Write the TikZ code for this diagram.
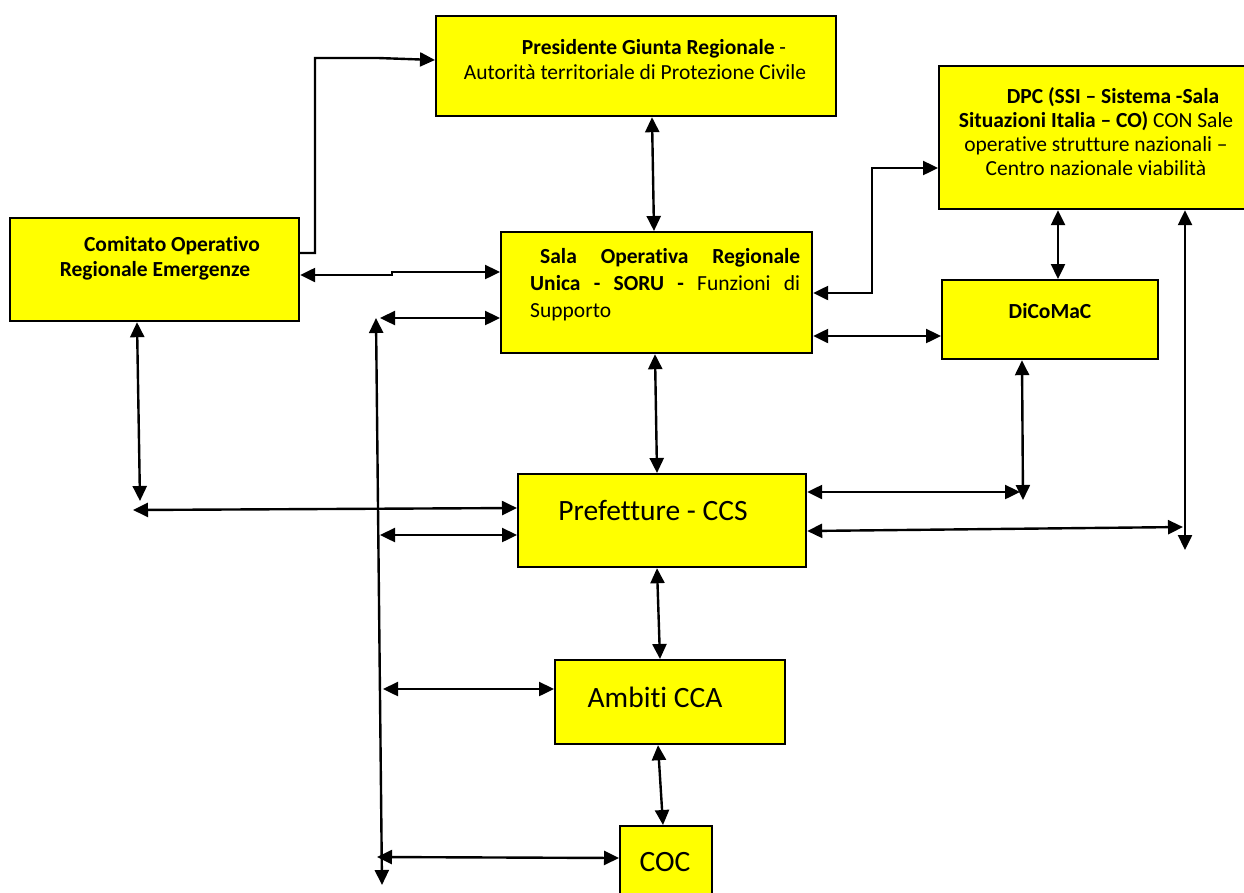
\documentclass[tikz,border=0pt]{standalone}
\usepackage{fontspec}
\setmainfont{Carlito}[Ligatures=NoCommon]
\usetikzlibrary{arrows.meta}
\definecolor{ylw}{RGB}{255,255,0}
\tikzset{
  box/.style={draw, line width=2.2pt, fill=ylw, inner sep=0pt, anchor=north west},
  txt/.style={inner sep=0pt, font=\fontsize{21.5}{25}\selectfont},
  bigtxt/.style={inner sep=0pt, font=\fontsize{29.5}{32}\selectfont},
  tip/.tip={Triangle[length=15pt,width=14pt]},
  both/.style={line width=2.4pt, tip-tip},
  one/.style={line width=2.4pt, -tip},
}
\begin{document}
\begin{tikzpicture}[x=1pt,y=-1pt]
\useasboundingbox (0,0) rectangle (1244,892);
% boxes
\node[box, minimum width=400pt, minimum height=100pt] (pres) at (435,15) {};
\node[box, minimum width=308pt, minimum height=143pt] (dpc) at (938,65) {};
\node[box, minimum width=289pt, minimum height=103pt] (com) at (9,217) {};
\node[box, minimum width=311pt, minimum height=121pt] (soru) at (500,231) {};
\node[box, minimum width=216pt, minimum height=79pt] (dico) at (941,279) {};
\node[box, minimum width=288pt, minimum height=93pt] (pref) at (517,473) {};
\node[box, minimum width=230pt, minimum height=84pt] (amb) at (554,659) {};
\node[box, minimum width=92pt, minimum height=72pt] (coc) at (619,825) {};
% texts
\node[txt, align=center] (prest) at (635,60) {\hspace*{38pt}\textbf{Presidente Giunta Regionale} -\\Autorità territoriale di Protezione Civile};
\node[txt, align=center, font=\fontsize{21.5}{24}\selectfont] (dpct) at (1096,132) {\hspace*{34pt}\textbf{DPC (SSI – Sistema -Sala}\\\textbf{Situazioni Italia – CO)} CON Sale\\operative strutture nazionali –\\Centro nazionale viabilità};
\node[txt, align=center, font=\fontsize{21.5}{25}\selectfont\bfseries] (comt) at (155,258) {\hspace*{34pt}Comitato Operativo\\Regionale Emergenze};
\node[txt, anchor=north west, text width=270pt, align=left, font=\fontsize{21.5}{27}\selectfont] (sorut) at (530,248) {\hspace*{10pt}\textbf{Sala}\hfill\textbf{Operativa}\hfill\textbf{Regionale}\\\textbf{Unica}\hfill\textbf{-}\hfill\textbf{SORU}\hfill\textbf{-}\hfill Funzioni\hfill di\\Supporto};
\node[txt, font=\fontsize{21.5}{25}\selectfont\bfseries] (dicot) at (1050,311) {DiCoMaC};
\node[bigtxt] (preft) at (653,510) {Prefetture - CCS};
\node[bigtxt] (ambt) at (655,697) {Ambiti CCA};
\node[bigtxt] (coct) at (665,862) {COC};
% connectors
\draw[one] (com.east |- 0,253) -- (315,253) -- (315,58) -- (378,58) -- (pres.west |- 0,60);
\draw[both] (com.east |- 0,275) -- (392,275) -- (392,272) -- (soru.west |- 0,272);
\draw[both] (pres.south -| 652,0) -- (soru.north -| 654,0);
\draw[both] (soru.east |- 0,293) -- (872,293) -- (872,168) -- (dpc.west |- 0,168);
\draw[both] (soru.east |- 0,336) -- (dico.west |- 0,336);
\draw[both] (dpc.south -| 1058,0) -- (dico.north -| 1058,0);
\draw[both] (soru.south -| 655,0) -- (pref.north -| 657,0);
\coordinate (dend) at (1023,500);
\coordinate (dhend) at (1020,492);
\draw[both] (dico.south -| 1022,0) -- (dend);
\draw[both] (pref.east |- 0,492) -- (dhend);
\coordinate (pend) at (1185,550);
\coordinate (phend) at (1183,527);
\draw[both] (dpc.south -| 1185,0) -- (pend);
\draw[both] (pref.east |- 0,531) -- (phend);
\coordinate (cend) at (140,501);
\coordinate (chend) at (133,510);
\draw[both] (com.south -| 137,0) -- (cend);
\draw[both] (pref.west |- 0,508) -- (chend);
\coordinate (vtop) at (376,318);
\coordinate (vbot) at (382,885);
\draw[both] (vtop) -- (vbot);
\coordinate (h1) at (380,318);
\coordinate (h2) at (380,535);
\coordinate (h3) at (383,689);
\coordinate (h4) at (377,857);
\draw[both] (h1) -- (soru.west |- 0,318);
\draw[both] (h2) -- (pref.west |- 0,535);
\draw[both] (h3) -- (amb.west |- 0,689);
\draw[both] (h4) -- (coc.west |- 0,858);
\draw[both] (pref.south -| 657,0) -- (amb.north -| 660,0);
\draw[both] (amb.south -| 658,0) -- (coc.north -| 663,0);
\end{tikzpicture}
\end{document}
